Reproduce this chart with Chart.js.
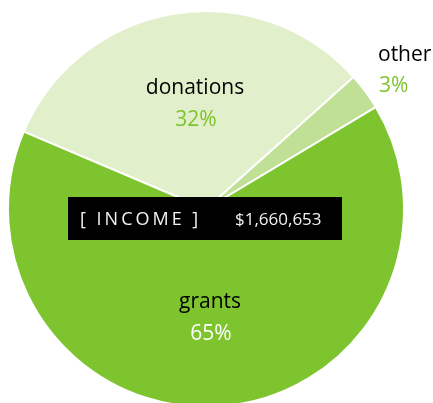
<!DOCTYPE html>
<html>
<head>
<meta charset="utf-8">
<script src="https://cdn.jsdelivr.net/npm/chart.js@4"></script>
<style>
  html, body { margin: 0; padding: 0; background: #fff; overflow: hidden; }
  #wrap { position: absolute; left: 0; top: 0; width: 433px; height: 420px; }
</style>
</head>
<body>
<div id="wrap"><canvas id="incomeChart"></canvas></div>
<script>
const categories = ['donations', 'other', 'grants'];
const shares = [32, 3, 65];
const sliceColors = ['#e2efcb', '#bfe095', '#7dc42f'];
const totalLabel = '$1,660,653';

document.addEventListener('DOMContentLoaded', function() {
    const ctx = document.getElementById('incomeChart').getContext('2d');

    // labels + income box, drawn on top of the pie
    const labelPlugin = {
        id: 'incomeLabels',
        afterDraw(chart) {
            const c = chart.ctx;
            const cx = (chart.chartArea.left + chart.chartArea.right) / 2;
            const cy = (chart.chartArea.top + chart.chartArea.bottom) / 2;
            c.save();
            c.textBaseline = 'middle';
            c.font = '21px "Open Sans"';

            // donations
            c.textAlign = 'center';
            c.fillStyle = '#000';
            c.fillText(categories[0], cx - 11, cy - 121);
            c.fillStyle = '#7dc42f';
            c.fillText(shares[0] + '%', cx - 10, cy - 89);

            // other
            c.textAlign = 'left';
            c.fillStyle = '#000';
            c.fillText(categories[1], cx + 172, cy - 154);
            c.fillStyle = '#7dc42f';
            c.fillText(shares[1] + '%', cx + 173, cy - 123);

            // grants
            c.textAlign = 'center';
            c.fillStyle = '#000';
            c.fillText(categories[2], cx + 4, cy + 93);
            c.fillStyle = '#ffffff';
            c.fillText(shares[2] + '%', cx + 5, cy + 125);

            // black income box
            c.fillStyle = '#000';
            c.fillRect(cx - 138, cy - 12, 274, 43);
            c.fillStyle = '#f2f2f2';
            c.textAlign = 'left';
            c.font = '18px "Open Sans"';
            c.letterSpacing = '3px';
            c.fillText('[ INCOME ]', cx - 126, cy + 11);
            c.letterSpacing = '0px';
            c.font = '17px "Open Sans"';
            c.fillText(totalLabel, cx + 29, cy + 11);
            c.restore();
        }
    };

    new Chart(ctx, {
        type: 'pie',
        data: {
            labels: categories,
            datasets: [{
                data: shares,
                backgroundColor: sliceColors,
                borderColor: '#ffffff',
                borderWidth: 2,
                hoverOffset: 0
            }]
        },
        options: {
            responsive: true,
            maintainAspectRatio: false,
            animation: false,
            rotation: -67,
            radius: 198,
            layout: { padding: { left: 0, right: 21, top: 0, bottom: 2 } },
            plugins: {
                legend: { display: false },
                tooltip: { enabled: false }
            }
        },
        plugins: [labelPlugin]
    });
});
</script>
</body>
</html>
